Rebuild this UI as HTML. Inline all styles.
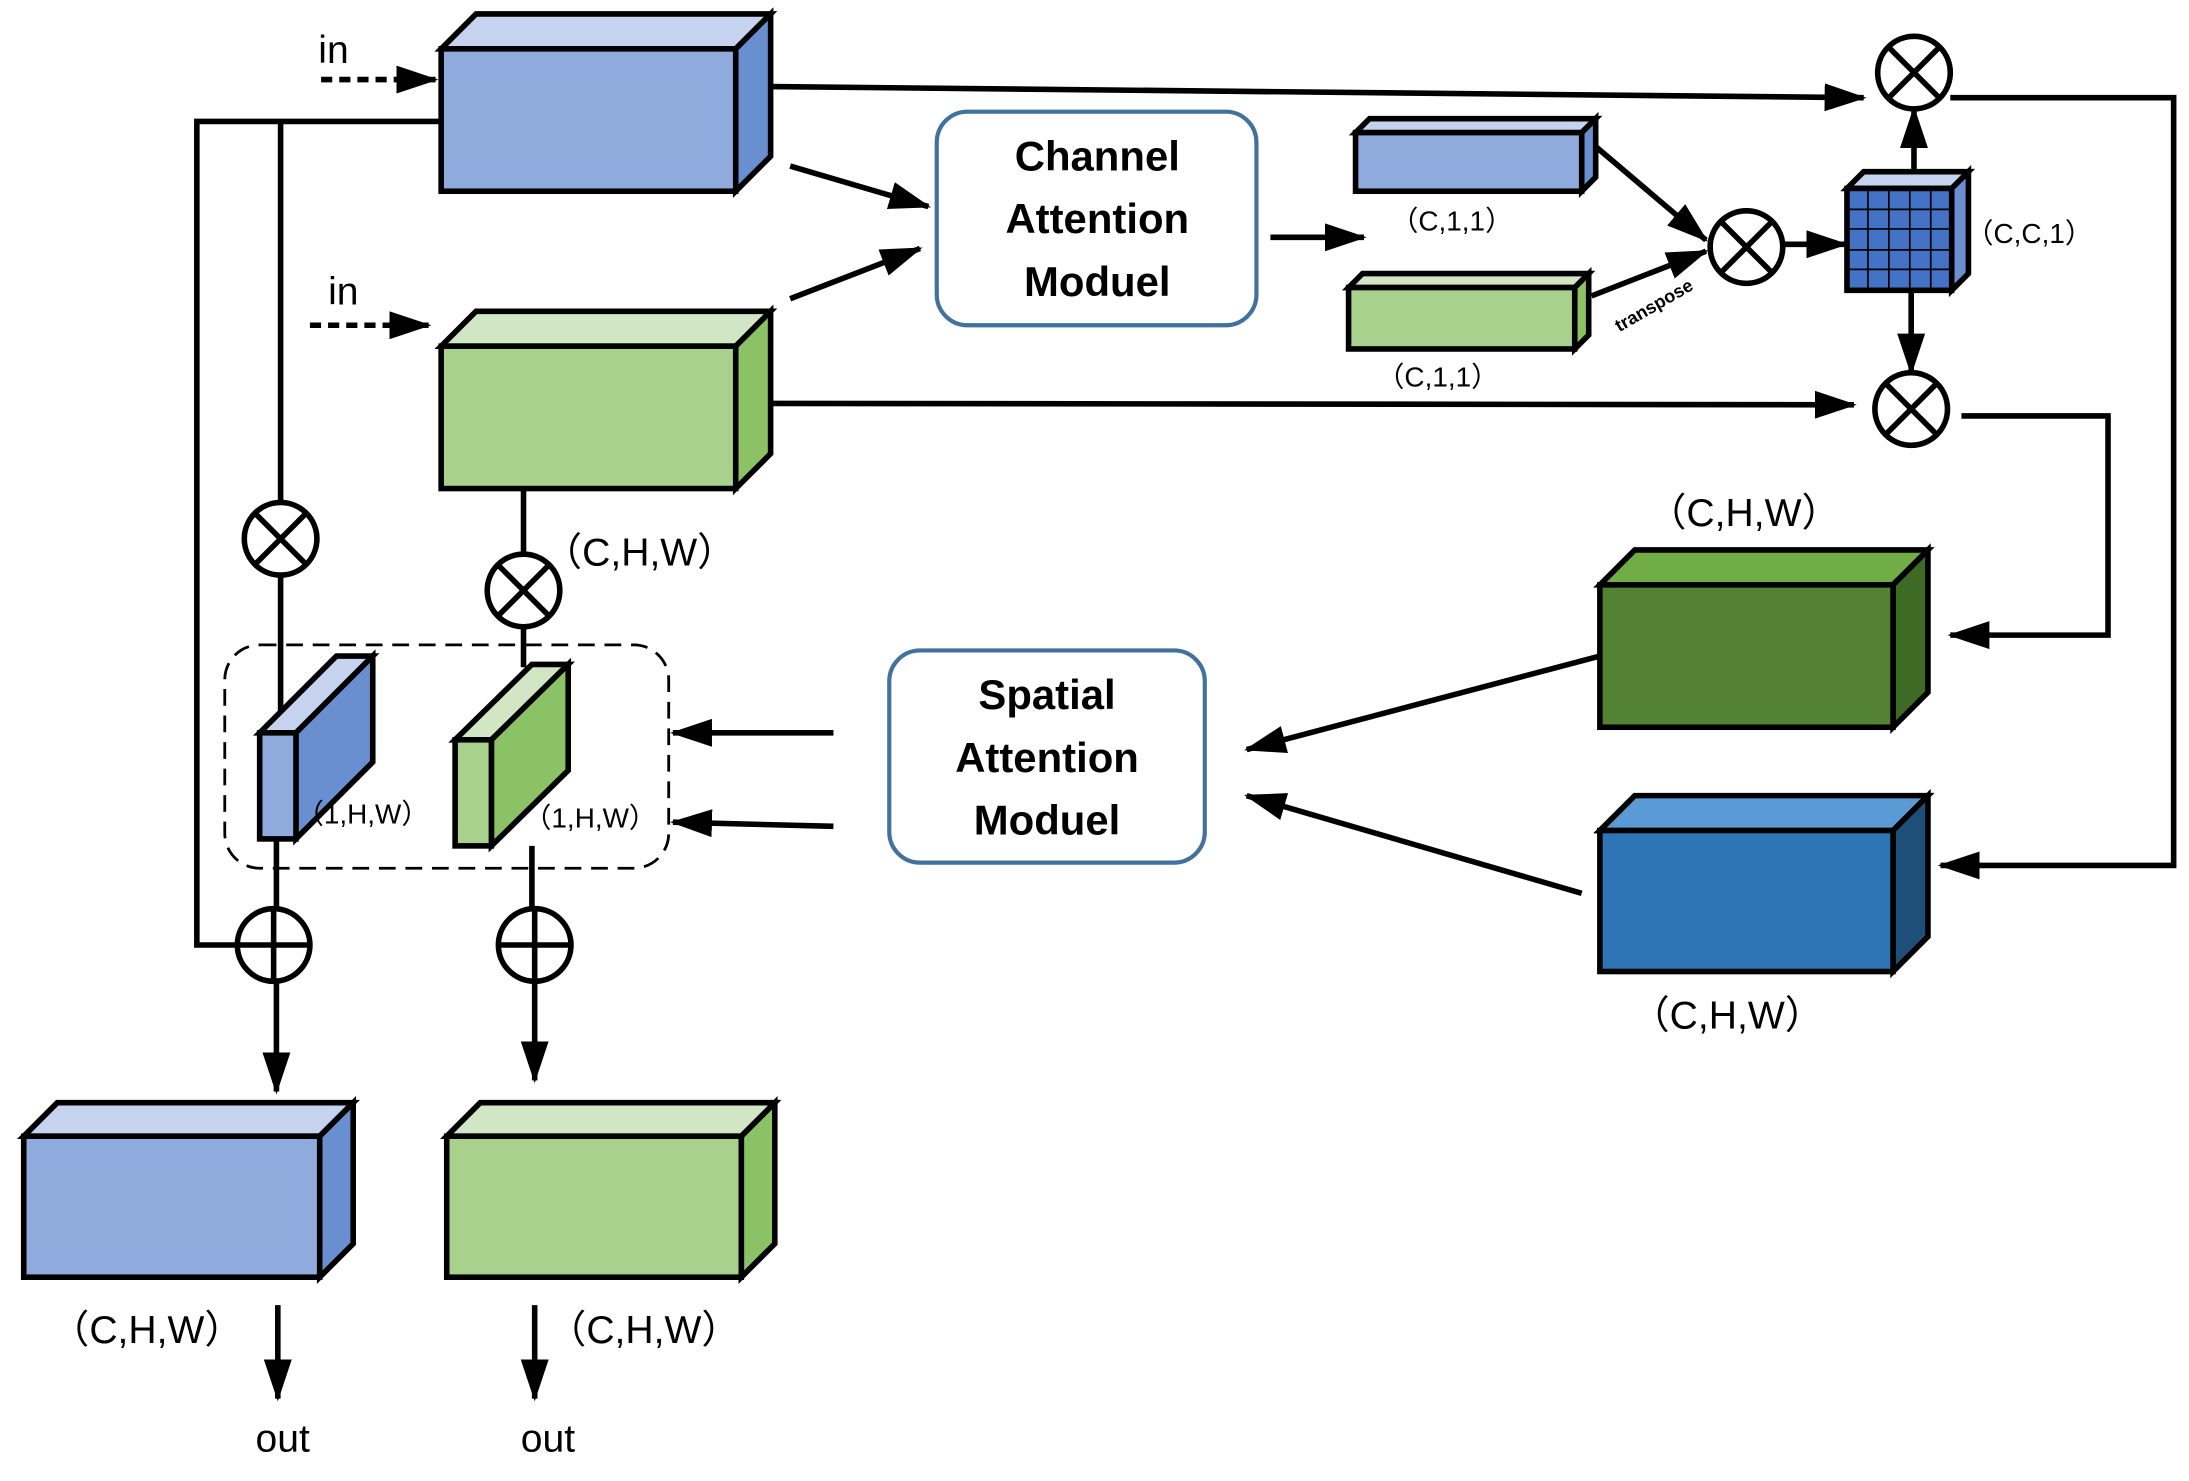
<!DOCTYPE html>
<html><head><meta charset="utf-8"><style>html,body{margin:0;padding:0;background:#fff}svg{display:block}</style></head>
<body>
<svg width="2189" height="1481" viewBox="0 0 1568 1061" preserveAspectRatio="none" xmlns="http://www.w3.org/2000/svg">
<defs>
<marker id="m" markerWidth="30" markerHeight="20" refX="28" refY="10" orient="auto" markerUnits="userSpaceOnUse"><path d="M0,0 L30,10 L0,20 Z" fill="#000"/></marker>
</defs>
<g stroke="#000" stroke-width="4" fill="none">
<polyline points="552,62 1335,70" marker-end="url(#m)"/>
<polyline points="1397,70 1557,70 1557,620 1390,620" marker-end="url(#m)"/>
<polyline points="552,289 1328,290" marker-end="url(#m)"/>
<polyline points="1405,298 1510,298 1510,455 1397,455" marker-end="url(#m)"/>
<polyline points="316,87 141,87 141,677 170,677"/>
<line x1="201" y1="87" x2="201" y2="360"/>
<line x1="201" y1="412" x2="201" y2="525"/>
<line x1="198" y1="601" x2="198" y2="651"/>
<line x1="198" y1="703" x2="198" y2="782" marker-end="url(#m)"/>
<line x1="375" y1="350" x2="375" y2="397"/>
<line x1="375" y1="449" x2="375" y2="478"/>
<line x1="381" y1="606" x2="381" y2="651"/>
<line x1="383" y1="703" x2="383" y2="774" marker-end="url(#m)"/>
<line x1="566" y1="119" x2="665" y2="148" marker-end="url(#m)"/>
<line x1="566" y1="214" x2="659" y2="178" marker-end="url(#m)"/>
<line x1="910" y1="170" x2="977" y2="170" marker-end="url(#m)"/>
<line x1="1143" y1="105" x2="1222" y2="172" marker-end="url(#m)"/>
<line x1="1140" y1="212" x2="1222" y2="180" marker-end="url(#m)"/>
<line x1="1277" y1="175" x2="1322" y2="175" marker-end="url(#m)"/>
<line x1="1371" y1="124" x2="1371" y2="78" marker-end="url(#m)"/>
<line x1="1369" y1="208" x2="1369" y2="267" marker-end="url(#m)"/>
<line x1="597" y1="525" x2="482" y2="525" marker-end="url(#m)"/>
<line x1="597" y1="592" x2="482" y2="589" marker-end="url(#m)"/>
<line x1="1146" y1="470" x2="893" y2="537" marker-end="url(#m)"/>
<line x1="1133" y1="640" x2="893" y2="570" marker-end="url(#m)"/>
<line x1="230" y1="57" x2="312" y2="57" stroke-dasharray="8,5" marker-end="url(#m)"/>
<line x1="222" y1="233" x2="307" y2="233" stroke-dasharray="8,5" marker-end="url(#m)"/>
<line x1="199" y1="935" x2="199" y2="1002" marker-end="url(#m)"/>
<line x1="383" y1="935" x2="383" y2="1002" marker-end="url(#m)"/>
</g>
<rect x="671" y="80" width="229" height="153" rx="22" fill="#fff" stroke="#41719c" stroke-width="3"/>
<rect x="637" y="466" width="226" height="152" rx="22" fill="#fff" stroke="#41719c" stroke-width="3"/>
<rect x="161" y="462" width="318" height="160" rx="25" fill="none" stroke="#000" stroke-width="2" stroke-dasharray="12,7"/>
<g stroke="#000" stroke-width="4" stroke-linejoin="miter">
<polygon points="316,35 341,10 552,10 527,35" fill="#c5d3ee"/><polygon points="527,35 552,10 552,112 527,137" fill="#6a8fd0"/><rect x="316" y="35" width="211" height="102" fill="#8faadc"/>
<polygon points="316,248 341,223 552,223 527,248" fill="#d0e6c4"/><polygon points="527,248 552,223 552,325 527,350" fill="#8cc266"/><rect x="316" y="248" width="211" height="102" fill="#a9d18e"/>
<polygon points="971,95 981,85 1143,85 1133,95" fill="#c5d3ee"/><polygon points="1133,95 1143,85 1143,127 1133,137" fill="#6a8fd0"/><rect x="971" y="95" width="162" height="42" fill="#8faadc"/>
<polygon points="966,206 976,196 1138,196 1128,206" fill="#d0e6c4"/><polygon points="1128,206 1138,196 1138,240 1128,250" fill="#8cc266"/><rect x="966" y="206" width="162" height="44" fill="#a9d18e"/>
<polygon points="1323,135 1335,123 1410,123 1398,135" fill="#c5d3ee"/><polygon points="1398,135 1410,123 1410,196 1398,208" fill="#6a8fd0"/><rect x="1323" y="135" width="75" height="73" fill="#4472c4"/>
<polygon points="1146,419 1171,394 1381,394 1356,419" fill="#70ad47"/><polygon points="1356,419 1381,394 1381,496 1356,521" fill="#3d6b26"/><rect x="1146" y="419" width="210" height="102" fill="#548235"/>
<polygon points="1146,595 1171,570 1381,570 1356,595" fill="#5b9bd5"/><polygon points="1356,595 1381,570 1381,671 1356,696" fill="#1f4e79"/><rect x="1146" y="595" width="210" height="101" fill="#2e75b6"/>
<polygon points="186,525 241,470 267,470 212,525" fill="#c5d3ee"/><polygon points="212,525 267,470 267,546 212,601" fill="#6a8fd0"/><rect x="186" y="525" width="26" height="76" fill="#8faadc"/>
<polygon points="326,530 381,476 407,476 352,530" fill="#d0e6c4"/><polygon points="352,530 407,476 407,552 352,606" fill="#8cc266"/><rect x="326" y="530" width="26" height="76" fill="#a9d18e"/>
<polygon points="17,814 41,790 253,790 229,814" fill="#c5d3ee"/><polygon points="229,814 253,790 253,891 229,915" fill="#6a8fd0"/><rect x="17" y="814" width="212" height="101" fill="#8faadc"/>
<polygon points="320,814 344,790 555,790 531,814" fill="#d0e6c4"/><polygon points="531,814 555,790 555,891 531,915" fill="#8cc266"/><rect x="320" y="814" width="211" height="101" fill="#a9d18e"/>
</g>
<g stroke="#000" stroke-width="1.2">
<line x1="1338" y1="135" x2="1338" y2="208"/><line x1="1353" y1="135" x2="1353" y2="208"/><line x1="1368" y1="135" x2="1368" y2="208"/><line x1="1383" y1="135" x2="1383" y2="208"/>
<line x1="1323" y1="150" x2="1398" y2="150"/><line x1="1323" y1="164" x2="1398" y2="164"/><line x1="1323" y1="179" x2="1398" y2="179"/><line x1="1323" y1="193" x2="1398" y2="193"/>
</g>
<g stroke="#000" stroke-width="4" fill="#fff">
<g transform="translate(1371,52)"><circle r="26"/><path d="M-18,-18L18,18M18,-18L-18,18"/></g>
<g transform="translate(1251,177)"><circle r="26"/><path d="M-18,-18L18,18M18,-18L-18,18"/></g>
<g transform="translate(1369,293)"><circle r="26"/><path d="M-18,-18L18,18M18,-18L-18,18"/></g>
<g transform="translate(201,386)"><circle r="26"/><path d="M-18,-18L18,18M18,-18L-18,18"/></g>
<g transform="translate(375,423)"><circle r="26"/><path d="M-18,-18L18,18M18,-18L-18,18"/></g>
<g transform="translate(196,677)"><circle r="26"/><path d="M-26,0H26M0,-26V26"/></g>
<g transform="translate(383,677)"><circle r="26"/><path d="M-26,0H26M0,-26V26"/></g>
</g>
<g font-family="Liberation Sans, sans-serif" fill="#000">
<g font-weight="bold" font-size="30" text-anchor="middle">
<text x="786" y="122">Channel</text><text x="786" y="167">Attention</text><text x="786" y="212">Moduel</text>
<text x="750" y="508">Spatial</text><text x="750" y="553">Attention</text><text x="750" y="598">Moduel</text>
</g>
<g font-size="28">
<text x="228" y="45">in</text><text x="235" y="218">in</text>
<text x="183" y="1040">out</text><text x="373" y="1040">out</text>
<text x="389" y="405">（C,H,W）</text>
<text x="1180" y="377">（C,H,W）</text>
<text x="1168" y="737">（C,H,W）</text>
<text x="36" y="962">（C,H,W）</text>
<text x="392" y="962">（C,H,W）</text>
</g>
<g font-size="20">
<text x="996" y="165">（C,1,1）</text>
<text x="986" y="277">（C,1,1）</text>
<text x="1408" y="174">（C,C,1）</text>
<text x="212" y="590">（1,H,W）</text>
<text x="375" y="593">（1,H,W）</text>
</g>
<text x="1160" y="238" font-size="13" font-weight="bold" transform="rotate(-30 1160 238)">transpose</text>
</g>
</svg>
</body></html>
